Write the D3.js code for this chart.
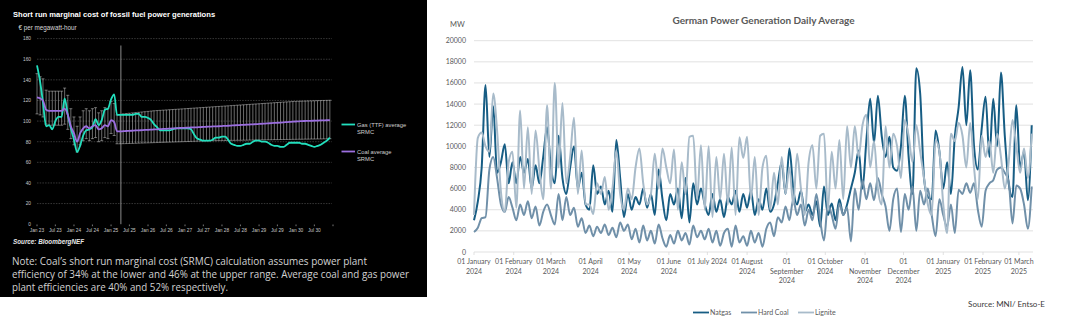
<!DOCTYPE html>
<html><head><meta charset="utf-8">
<script src="https://cdn.jsdelivr.net/npm/d3@7"></script>
<style>html,body{margin:0;padding:0;background:#fff;}svg{display:block;}</style>
</head><body>
<svg id="c" width="1065" height="324"></svg>
<script>
// ---------------- LEFT CHART DATA (monthly, from Jan 2023) ----------------
const srmcStart = "2023-01-01";
const srmcTickLabels = ["Jan 23","Jul 23","Jan 24","Jul 24","Jan 25","Jul 25","Jan 26","Jul 26","Jan 27","Jul 27","Jan 28","Jul 28","Jan 29","Jul 29","Jan 30","Jul 30"];
const srmcYTicks = [0,20,40,60,80,100,120,140,160,180];
const todayMarker = "2025-04-08";
const gasSRMC = [154,138,118,95,96,92,100,104,104,122,106,93,
 82,70,76,86,91,92,94,102,96,101,111,112,
 121,126,106,106,106,106,106,106,107,107,104,104,
 103,101,97,94,91,91,91,91,92,93,93,93,
 93,93,92,87,83,82,81,81,81,82,84,84,
 85,85,82,78,77,76,76,77,78,78,80,81,
 81,80,80,79,77,76,76,75,75,77,79,79,
 79,79,78,78,77,76,75,76,77,79,81,84];
const coalSRMC = [123,122,120,111,110,110,110,110,110,112,106,95,
 88,80,88,93,95,93,95,96,92,93,96,95,
 101,99,90,90,90.2,90.4,90.5,90.7,90.9,91.0,91.2,91.4,
 91.5,91.7,91.9,92.0,92.2,92.4,92.5,92.7,92.9,93.0,93.2,93.4,
 93.5,93.6,93.8,93.9,94.0,94.2,94.3,94.5,94.6,94.8,94.9,95.0,
 95.2,95.4,95.5,95.7,95.9,96.0,96.2,96.4,96.5,96.7,96.9,97.0,
 97.2,97.4,97.6,97.8,98.0,98.2,98.4,98.6,98.8,99.0,99.2,99.4,
 99.6,99.8,100.0,100.1,100.2,100.3,100.4,100.5,100.6,100.7,100.8,101.0];
const coalLow = [107,106,104,97,96,96,96,96,96,97,92,83,
 77,70,77,81,83,81,83,84,80,81,84,83,
 88,86,78,78,78.1,78.2,78.3,78.4,78.5,78.6,78.7,78.8,
 78.9,79.0,79.1,79.2,79.3,79.4,79.5,79.6,79.7,79.8,79.9,80.0,
 80.1,80.2,80.3,80.4,80.5,80.6,80.7,80.8,80.9,81.0,81.0,81.1,
 81.1,81.2,81.2,81.3,81.3,81.4,81.4,81.5,81.5,81.6,81.6,81.7,
 81.7,81.8,81.8,81.9,81.9,82.0,82.0,82.1,82.1,82.2,82.2,82.3,
 82.3,82.4,82.4,82.5,82.5,82.6,82.6,82.7,82.7,82.8,82.8,82.9];
const coalHigh = [146,143,141,130,129,129,129,129,129,132,125,112,
 104,95,104,110,112,110,112,113,108,110,113,112,
 119,117,106,106.5,107,107.3,107.6,107.9,108.2,108.5,108.8,109.1,
 109.4,109.7,110.0,110.2,110.4,110.6,110.8,111.0,111.2,111.4,111.6,111.8,
 112.0,112.2,112.4,112.6,112.8,113.0,113.2,113.4,113.6,113.8,114.0,114.2,
 114.4,114.6,114.8,115.0,115.2,115.4,115.6,115.8,116.0,116.2,116.4,116.6,
 116.8,117.0,117.2,117.4,117.6,117.8,118.0,118.2,118.4,118.6,118.8,119.0,
 119.1,119.2,119.3,119.4,119.5,119.6,119.7,119.8,119.9,120.0,120.1,120.2];
const srmcSeriesNames = ["Gas (TTF) average", "Coal average"];
const noteLines = [
 "Note: Coal\u2019s short run marginal cost (SRMC) calculation assumes power plant",
 "efficiency of 34% at the lower and 46% at the upper range. Average coal and gas power",
 "plant efficiencies are 40% and 52% respectively."];

// ---------------- RIGHT CHART DATA (every 3 days from 1 Jan 2024) ----------------
const genStart = "2024-01-01";
const genStepDays = 3;
const genSeriesNames = ["Natgas", "Hard Coal", "Lignite"];
const genYTicks = [0,2000,4000,6000,8000,10000,12000,14000,16000,18000,20000];
const genXTickLabels = [
 ["01 January","2024"],["01 February","2024"],["01 March","2024"],["01 April","2024"],
 ["01 May","2024"],["01 June","2024"],["01 July 2024"],["01 August","2024"],
 ["01","September","2024"],["01 October","2024"],["01","November","2024"],["01","December","2024"],
 ["01 January","2025"],["01 February","2025"],["01 March","2025"]];
const natgas = [
 3000,4800,8000,15800,9000,13800,7500,8500,10200,6500,
 8500,6500,9000,7500,8800,6000,8200,6500,9000,11800,
 8000,6500,11000,7000,5500,8000,10000,6000,7500,4500,
 4000,8200,5500,6200,4500,5800,3800,10600,7000,3300,
 5500,4000,5200,4500,6000,4200,5500,3500,7800,5000,
 3000,5500,4500,6000,3200,7000,2800,6500,4500,6000,
 4500,3500,5500,3800,5000,3300,5200,4500,5800,3800,
 5500,4200,5800,3500,5000,4000,6000,3800,4500,6500,
 8500,5500,9800,6000,4500,5800,3800,4500,3500,4800,
 2400,6200,3500,4600,3000,5000,3500,4500,6000,7500,
 9600,6000,10500,14500,10300,14800,11000,9000,10900,8000,
 7700,10000,14800,9000,5500,17400,15000,7000,5200,5000,
 11500,9500,6000,8500,5500,10900,13700,17500,12000,17200,
 10000,7800,11700,14700,9000,14500,10000,17000,11000,6500,
 5200,13900,8000,9500,4900,12000];
const hardCoal = [
 1900,2300,3200,3300,7800,9000,7000,4500,3800,5200,
 4200,3000,4500,3500,4800,3200,4300,2500,3800,4500,
 3500,2600,5500,3000,5200,3500,4200,2400,3200,1800,
 2500,1500,2400,1800,2600,1600,2300,1400,2800,2000,
 2600,1200,2200,900,2500,1100,2000,800,2600,1300,
 500,1600,800,2000,1100,1800,700,2500,1400,2000,
 1200,2200,900,2000,600,1800,2200,500,2500,900,
 1500,600,2000,900,1800,500,2200,2800,1500,3300,
 2800,4300,3000,5000,3500,4500,2500,4000,3000,5500,
 3000,1100,4500,3500,2200,4600,3500,4200,1000,6000,
 4000,6800,5000,6500,4900,7000,5500,4300,2000,5000,
 6000,1900,5500,4000,6200,2000,5800,4500,6000,3500,
 1500,5000,3500,2400,4500,1800,5900,5500,6500,5600,
 6500,4000,2400,5800,6500,6800,7800,8000,7500,6700,
 2700,6300,6000,4500,2200,6200];
const lignite = [
 3500,10800,11300,10000,9500,15000,11500,5700,3800,8500,
 9500,4200,13400,6000,11800,5500,11500,7800,5000,13900,
 6000,16000,8000,14100,6500,9000,12700,5500,9600,4500,
 4500,3600,6500,5500,7100,4000,6000,9600,5500,4000,
 6000,5000,8000,9800,6500,4500,5500,9300,6000,9800,
 8000,6500,9700,4000,8500,5500,10900,11000,5000,10100,
 4000,10000,3300,9000,5000,9300,4500,9900,3500,10850,
 8900,10900,5000,9000,3500,8000,9100,4000,7500,4500,
 9000,5500,8000,4500,9300,6000,3500,8500,10100,6000,
 11000,11200,4000,9500,6000,10600,5000,11900,8000,11900,
 9000,12000,13000,8000,10500,6000,4500,11900,8000,11200,
 10000,7000,12500,11000,8500,12000,9500,7000,4500,3500,
 10600,9500,4500,1800,11200,10500,12200,11000,8000,12200,
 8000,5000,11000,9000,10500,7500,11200,9000,6000,8500,
 12500,10000,7500,9800,7000,11200];

// ---------------- DRAW ----------------
const svg = d3.select("#c");
const LF = "'Liberation Sans', Arial, sans-serif";
const RF = "Lato, 'Liberation Sans', sans-serif";

// ===== Left panel =====
const L = svg.append("g");
L.append("rect").attr("x",0).attr("y",0).attr("width",427).attr("height",297).attr("fill","#000");

const t0 = d3.timeParse("%Y-%m-%d")(srmcStart);
const monthDates = gasSRMC.map((d,i)=>d3.timeMonth.offset(t0,i));
const xL = d3.scaleTime().domain([t0, d3.timeYear.offset(t0,8)]).range([37,333]);
const yL = d3.scaleLinear().domain([0,180]).range([224.2,38.6]);

L.append("g").selectAll("line").data(srmcYTicks.filter(v=>v>0)).join("line")
 .attr("x1",37).attr("x2",332).attr("y1",d=>yL(d)).attr("y2",d=>yL(d))
 .attr("stroke","#5c5c5c").attr("stroke-width",0.6).attr("stroke-dasharray","1.5,1.2");
L.append("g").selectAll("text").data(srmcYTicks).join("text")
 .attr("x",31).attr("y",d=>yL(d)+1.8).attr("text-anchor","end")
 .attr("font-family",LF).attr("font-size",4.8).attr("fill","#c8c8c8").text(d=>d);
const halfYears = d3.range(17).map(i=>d3.timeMonth.offset(t0,i*6));
L.append("g").selectAll("line").data(halfYears).join("line")
 .attr("x1",d=>xL(d)).attr("x2",d=>xL(d)).attr("y1",224.5).attr("y2",226.2)
 .attr("stroke","#aaa").attr("stroke-width",0.7);
L.append("g").selectAll("text").data(srmcTickLabels).join("text")
 .attr("x",(d,i)=>xL(halfYears[i])).attr("y",231.5).attr("text-anchor","middle")
 .attr("font-family",LF).attr("font-size",4.8).attr("fill","#c8c8c8").text(d=>d);

const tm = d3.timeParse("%Y-%m-%d")(todayMarker);
L.append("line").attr("x1",xL(tm)).attr("x2",xL(tm)).attr("y1",45.5).attr("y2",224.2)
 .attr("stroke","#8a8a8a").attr("stroke-width",1);

const eb = L.append("g").attr("stroke","#c4c4c4").attr("stroke-width",0.55);
monthDates.forEach((d,i)=>{
  const x = xL(d);
  eb.append("line").attr("x1",x).attr("x2",x).attr("y1",yL(coalLow[i])).attr("y2",yL(coalHigh[i]));
  eb.append("line").attr("x1",x-1.5).attr("x2",x+1.5).attr("y1",yL(coalLow[i])).attr("y2",yL(coalLow[i]));
  eb.append("line").attr("x1",x-1.5).attr("x2",x+1.5).attr("y1",yL(coalHigh[i])).attr("y2",yL(coalHigh[i]));
});

const lineL = (arr)=>d3.line().x((d,i)=>xL(monthDates[i])).y(d=>yL(d)).curve(d3.curveMonotoneX)(arr);
const gasColor = "#22dfbd", coalColor = "#9c6fe0";
L.append("path").attr("d",lineL(gasSRMC)).attr("fill","none").attr("stroke",gasColor).attr("stroke-width",1.8);
L.append("path").attr("d",lineL(coalSRMC)).attr("fill","none").attr("stroke",coalColor).attr("stroke-width",1.8);

[[gasColor,124.5,srmcSeriesNames[0]],[coalColor,151.5,srmcSeriesNames[1]]].forEach(([c,y,name])=>{
  L.append("line").attr("x1",341.5).attr("x2",355).attr("y1",y).attr("y2",y).attr("stroke",c).attr("stroke-width",1.8);
  L.append("text").attr("x",357).attr("y",y+2).attr("font-family",LF).attr("font-size",5.8).attr("fill","#cfcfcf").text(name);
  L.append("text").attr("x",357).attr("y",y+9).attr("font-family",LF).attr("font-size",5.8).attr("fill","#cfcfcf").text("SRMC");
});

L.append("text").attr("x",13).attr("y",16.5).attr("font-family",LF).attr("font-weight","bold")
 .attr("font-size",7.6).attr("fill","#fff").text("Short run marginal cost of fossil fuel power generations");
L.append("text").attr("x",18.5).attr("y",30).attr("font-family",LF)
 .attr("font-size",6.3).attr("fill","#d8d8d8").text("\u20ac per megawatt-hour");
L.append("text").attr("x",13).attr("y",244).attr("font-family",LF).attr("font-style","italic").attr("font-weight","bold")
 .attr("font-size",6.3).attr("fill","#e8e8e8").text("Source: BloombergNEF");
const noteW = [355,397,216];
noteLines.forEach((s,i)=>{
  L.append("text").attr("x",12).attr("y",265+i*12.9).attr("font-family","'Open Sans', sans-serif")
   .attr("font-size",10).attr("fill","#d2d2d2").attr("textLength",noteW[i]).attr("lengthAdjust","spacingAndGlyphs").text(s);
});

// ===== Right panel =====
const R = svg.append("g");
const g0 = d3.timeParse("%Y-%m-%d")(genStart);
const genDates = natgas.map((d,i)=>d3.timeDay.offset(g0,i*genStepDays));
const xR = d3.scaleTime().domain([g0, d3.timeParse("%Y-%m-%d")("2025-03-12")]).range([474,1033]);
const yR = d3.scaleLinear().domain([0,20000]).range([252,40.7]);
const grey = "#595959";

R.append("g").selectAll("line").data(genYTicks).join("line")
 .attr("x1",474).attr("x2",1033).attr("y1",d=>yR(d)).attr("y2",d=>yR(d))
 .attr("stroke","#d9d9d9").attr("stroke-width",0.8);
R.append("g").selectAll("text").data(genYTicks).join("text")
 .attr("x",466).attr("y",d=>yR(d)+2.5).attr("text-anchor","end")
 .attr("font-family",RF).attr("font-size",7).attr("fill",grey).text(d=>d);

const monthTicks = genXTickLabels.map((d,i)=>d3.timeMonth.offset(g0,i));
R.append("g").selectAll("line").data(monthTicks).join("line")
 .attr("x1",d=>xR(d)).attr("x2",d=>xR(d)).attr("y1",252).attr("y2",255)
 .attr("stroke","#d9d9d9").attr("stroke-width",0.8);
const xl = R.append("g").selectAll("text").data(genXTickLabels).join("text")
 .attr("font-family",RF).attr("font-size",7).attr("fill",grey).attr("text-anchor","middle");
xl.each(function(lines,i){
  d3.select(this).selectAll("tspan").data(lines).join("tspan")
   .attr("x",xR(monthTicks[i])).attr("y",(d,j)=>264+j*9.5).text(d=>d);
});

const genColors = ["#175d84","#7090a9","#a8bbca"];
const lineR = d3.line().x((d,i)=>xR(genDates[i])).y(d=>yR(d)).curve(d3.curveMonotoneX);
[natgas,hardCoal,lignite].forEach((s,k)=>{
  R.append("path").attr("d",lineR(s)).attr("fill","none").attr("stroke",genColors[k]).attr("stroke-width",2);
});

R.append("text").attr("x",763.5).attr("y",24).attr("text-anchor","middle").attr("font-family",RF)
 .attr("font-weight","bold").attr("font-size",10).attr("fill",grey).text("German Power Generation Daily Average");
R.append("text").attr("x",450).attr("y",26.5).attr("font-family",RF).attr("font-size",7.5).attr("fill",grey).text("MW");

const legX = [693,741,798];
genSeriesNames.forEach((n,k)=>{
  R.append("line").attr("x1",legX[k]).attr("x2",legX[k]+16).attr("y1",312.5).attr("y2",312.5)
   .attr("stroke",genColors[k]).attr("stroke-width",1.8);
  R.append("text").attr("x",legX[k]+17).attr("y",315).attr("font-family",RF).attr("font-size",7).attr("fill",grey).text(n);
});
R.append("text").attr("x",1045).attr("y",306.5).attr("text-anchor","end").attr("font-family",RF)
 .attr("font-size",8).attr("fill","#3a3a3a").text("Source: MNI/ Entso-E");
</script>
</body></html>
